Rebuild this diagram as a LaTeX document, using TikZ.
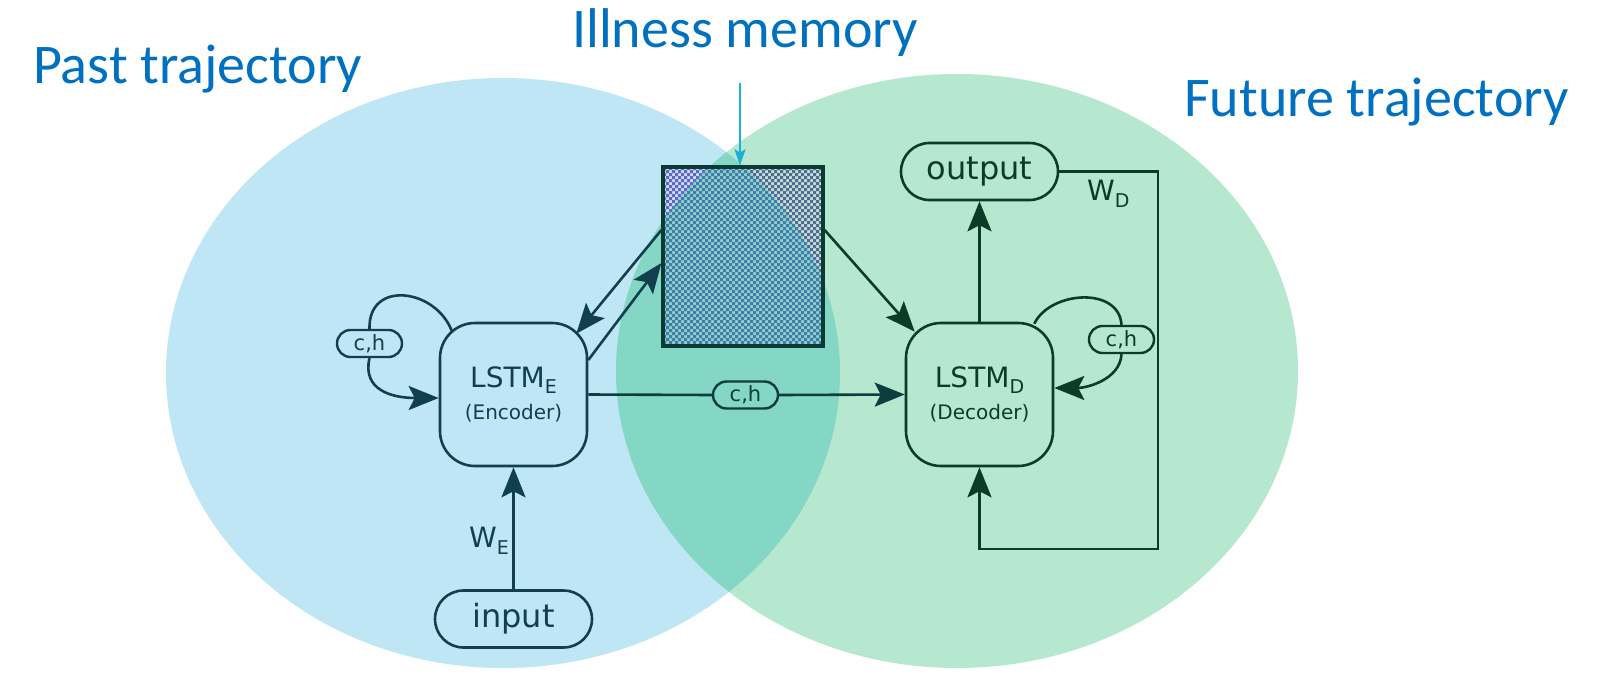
\documentclass[tikz,border=0pt]{standalone}
\usepackage{fontspec}
\usepackage{graphicx}
\setmainfont{DejaVu Sans}
\newfontfamily\titlefont{Carlito}
\usetikzlibrary{arrows.meta,shapes.misc}
\definecolor{blueR}{HTML}{BEE6F5}
\definecolor{greenR}{HTML}{B5E8CF}
\definecolor{overR}{HTML}{84D6C5}
\definecolor{titleC}{HTML}{0070C0}
\definecolor{encC}{HTML}{123F4E}
\definecolor{decC}{HTML}{0A3C28}
\definecolor{midC}{HTML}{0D3D3C}
\definecolor{memU}{HTML}{6A60C8}
\definecolor{memM}{HTML}{4A78AE}
\definecolor{memG}{HTML}{5E6398}
\definecolor{memB}{HTML}{0A3A34}
\definecolor{cyanC}{HTML}{1DB0D6}
\begin{document}
\begin{tikzpicture}[x=1pt,y=-1pt,
  bigarrow/.style={-{Stealth[length=30pt,width=24pt,inset=6pt]}},
  wire/.style={line width=2.6pt},
  lstmbox/.style={draw, line width=2.6pt, rectangle, rounded corners=35pt, minimum width=147pt, minimum height=143pt, align=center, inner sep=0pt},
  iopill/.style={draw, line width=2.6pt, rounded rectangle, minimum width=157pt, minimum height=57pt, inner sep=0pt, font=\fontsize{32}{36}\selectfont},
  chpill/.style={draw, line width=2.4pt, rounded rectangle, minimum width=65pt, minimum height=27pt, inner sep=0pt, font=\fontsize{21}{22}\selectfont},
  titletext/.style={text=titleC, inner sep=0pt, font=\titlefont\fontsize{56}{60}\selectfont},
  wlabel/.style={inner sep=0pt, font=\fontsize{28}{30}\selectfont}
]
\useasboundingbox (0,0) rectangle (1611,682);
\fill[white] (0,0) rectangle (1611,682);

% regions
\fill[blueR] (503,373) ellipse [x radius=337, y radius=295];
\fill[greenR] (957,371) ellipse [x radius=341, y radius=297];
\begin{scope}
  \clip (503,373) ellipse [x radius=337, y radius=295];
  \fill[overR] (957,371) ellipse [x radius=341, y radius=297];
\end{scope}

% titles
\node[titletext, anchor=base west] (past) at (33,84) {Past trajectory};
\node[titletext, anchor=base west] (ill) at (572,48) {Illness memory};
\node[titletext, anchor=base west] (fut) at (1184,117) {Future trajectory};

% memory box: checker cells (3pt, on whole points), tinted by region
\begin{scope}
  \clip (663,167) rectangle (823,346);
  \begin{scope}
    \clip (503,373) ellipse [x radius=337, y radius=295];
    \clip (957,371) ellipse [x radius=341, y radius=297];
    \fill[memM]
      \foreach \ci in {0,2,...,52} {\foreach \cj in {0,2,...,58} {({663+\ci*3},{167+\cj*3}) rectangle ++(3,3)}}
      \foreach \ci in {1,3,...,53} {\foreach \cj in {1,3,...,59} {({663+\ci*3},{167+\cj*3}) rectangle ++(3,3)}};
  \end{scope}
  \begin{scope}[even odd rule]
    \clip (503,373) ellipse [x radius=337, y radius=295];
    \clip (663,167) rectangle (823,346) (957,371) ellipse [x radius=341, y radius=297];
    \fill[memU]
      \foreach \ci in {0,2,...,52} {\foreach \cj in {0,2,...,58} {({663+\ci*3},{167+\cj*3}) rectangle ++(3,3)}}
      \foreach \ci in {1,3,...,53} {\foreach \cj in {1,3,...,59} {({663+\ci*3},{167+\cj*3}) rectangle ++(3,3)}};
  \end{scope}
  \begin{scope}[even odd rule]
    \clip (957,371) ellipse [x radius=341, y radius=297];
    \clip (663,167) rectangle (823,346) (503,373) ellipse [x radius=337, y radius=295];
    \fill[memG]
      \foreach \ci in {0,2,...,52} {\foreach \cj in {0,2,...,58} {({663+\ci*3},{167+\cj*3}) rectangle ++(3,3)}}
      \foreach \ci in {1,3,...,53} {\foreach \cj in {1,3,...,59} {({663+\ci*3},{167+\cj*3}) rectangle ++(3,3)}};
  \end{scope}
\end{scope}
\node[draw=memB, line width=3.2pt, minimum width=160pt, minimum height=179pt, inner sep=0pt] (mem) at (743,256.5) {};

\coordinate (illtop) at (740,83);
\draw[cyanC, line width=2.6pt, -{Stealth[length=16pt,width=11pt,inset=3pt]}] (illtop) -- (illtop |- mem.north);

% LSTM nodes
\node[lstmbox, draw=encC, text=encC] (enc) at (513.5,394.5)
  {{\fontsize{28}{30}\selectfont LSTM\raisebox{-6pt}{\fontsize{19}{19}\selectfont E}}\\[9pt]
   {\fontsize{20}{24}\selectfont (Encoder)}};
\node[lstmbox, draw=decC, text=decC] (dec) at (979.5,394.5)
  {{\fontsize{28}{30}\selectfont LSTM\raisebox{-6pt}{\fontsize{19}{19}\selectfont D}}\\[9pt]
   {\fontsize{20}{24}\selectfont (Decoder)}};

% io pills
\node[iopill, draw=encC, text=encC] (inp) at (513.5,619) {input};
\node[iopill, draw=decC, text=decC] (out) at (979.5,171.5) {output};

% c,h pills
\node[chpill, draw=encC, text=encC] (lch) at (369.5,343.5) {c,h};
\node[chpill, draw=midC, text=midC] (mch) at (745.5,395) {c,h};
\node[chpill, draw=decC, text=decC] (rch) at (1121.5,339.5) {c,h};

% weight labels
\node[wlabel, text=encC, anchor=base east] (we) at (509,547)
  {W\raisebox{-7pt}{\fontsize{19}{19}\selectfont E}};
\node[wlabel, text=decC, anchor=base west] (wd) at (1087,200)
  {W\raisebox{-7pt}{\fontsize{19}{19}\selectfont D}};

% encoder self loop
\draw[wire, encC] ([shift={(13pt,-9pt)}]enc.north west) .. controls (435,288) and (368,280) .. (lch.north);
\draw[wire, encC, bigarrow] (lch.south) .. controls (362,390) and (392,398) .. ([yshift=-3.5pt]enc.west);

% decoder self loop
\draw[wire, decC] ([shift={(-20pt,-2pt)}]dec.north east) .. controls (1050,291) and (1119,286) .. (rch.north);
\draw[wire, decC, bigarrow] (rch.south) .. controls (1120,380) and (1086,388) .. ([yshift=6.5pt]dec.east);

% input -> encoder
\draw[wire, encC, bigarrow] (inp.north) -- (enc.south);

% encoder -> decoder
\draw[wire, midC] (enc.east) -- (mch.west);
\draw[wire, midC, bigarrow] (mch.east) -- (dec.west);

% memory links
\draw[wire, encC, bigarrow] ([yshift=26.5pt]mem.west) -- ([shift={(-12pt,-12pt)}]enc.north east);
\draw[wire, encC, bigarrow] ([yshift=34.5pt]enc.east) -- ([yshift=-6.5pt]mem.west);
\draw[wire, decC, bigarrow] ([yshift=26.5pt]mem.east) -- ([shift={(10pt,-10pt)}]dec.north west);

% decoder -> output and feedback
\draw[wire, decC, bigarrow] (dec.north) -- (out.south);
\coordinate (fbc) at (1158,549);
\draw[wire, decC, bigarrow] (out.east) -| (fbc) -| (dec.south);
\end{tikzpicture}
\end{document}
